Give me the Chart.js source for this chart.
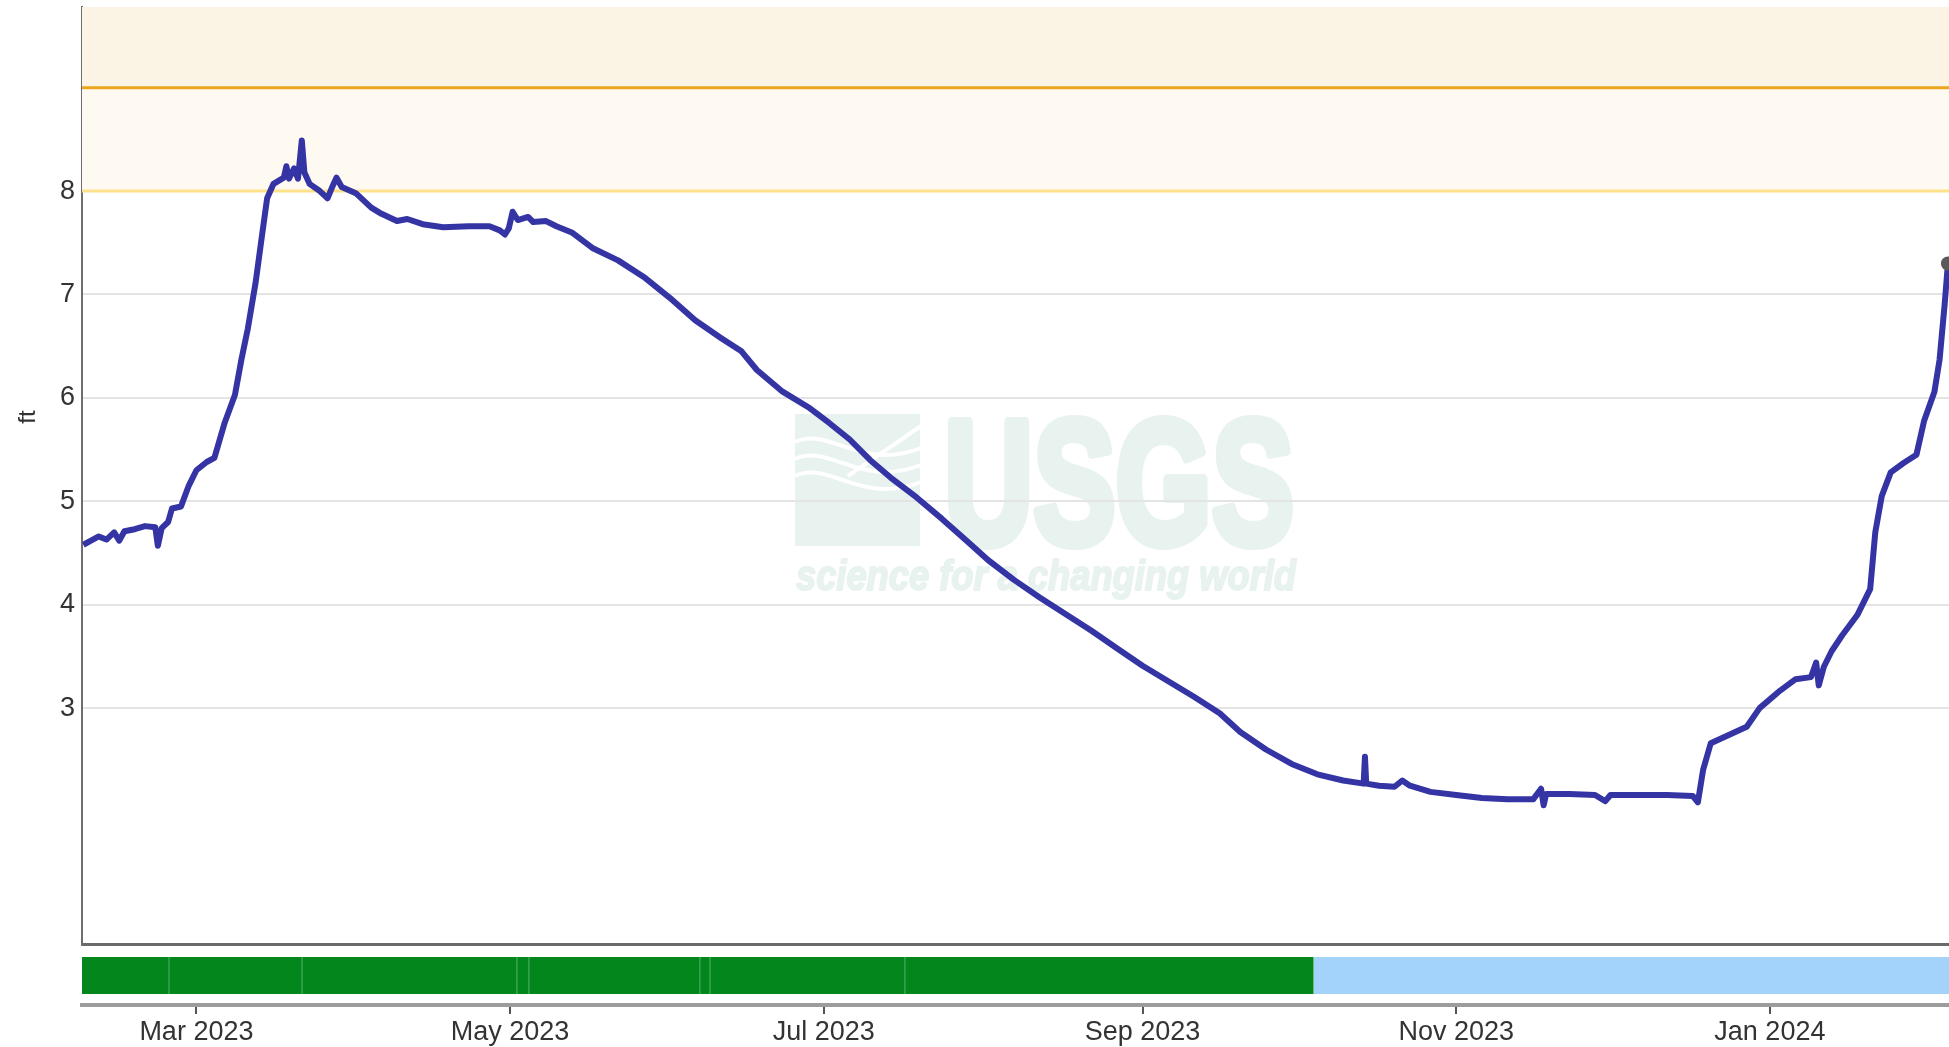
<!DOCTYPE html>
<html>
<head>
<meta charset="utf-8">
<script src="https://cdn.jsdelivr.net/npm/chart.js@4.4.1/dist/chart.umd.min.js"></script>
<style>
  html, body { margin: 0; padding: 0; background: #fff; overflow: hidden; }
  #wrap { width: 1949px; height: 1047px; }
</style>
</head>
<body>
<div id="wrap"><canvas id="myChart"></canvas></div>
<script>
// gage height readings (UTC)
const DATES = [
  '2023-02-07T00', '2023-02-08T12', '2023-02-10T00', '2023-02-11T12', '2023-02-13T00',
  '2023-02-14T00', '2023-02-15T00', '2023-02-17T00', '2023-02-19T00', '2023-02-21T00',
  '2023-02-21T12', '2023-02-22T06', '2023-02-23T12', '2023-02-24T06', '2023-02-26T00',
  '2023-02-27T12', '2023-03-01T00', '2023-03-03T00', '2023-03-04T12', '2023-03-06T12',
  '2023-03-08T12', '2023-03-09T18', '2023-03-11T00', '2023-03-12T12', '2023-03-13T18',
  '2023-03-14T18', '2023-03-16T00', '2023-03-18T00', '2023-03-18T12', '2023-03-19T00',
  '2023-03-20T00', '2023-03-20T18', '2023-03-21T12', '2023-03-22T00', '2023-03-23T00',
  '2023-03-25T00', '2023-03-26T12', '2023-03-27T12', '2023-03-28T06', '2023-03-29T06',
  '2023-04-01T00', '2023-04-04T00', '2023-04-06T00', '2023-04-09T00', '2023-04-11T00',
  '2023-04-14T00', '2023-04-18T00', '2023-04-23T00', '2023-04-27T00', '2023-04-29T00',
  '2023-04-30T00', '2023-04-30T18', '2023-05-01T12', '2023-05-02T12', '2023-05-04T12',
  '2023-05-05T12', '2023-05-08T00', '2023-05-10T00', '2023-05-13T00', '2023-05-17T00',
  '2023-05-22T00', '2023-05-27T00', '2023-06-01T00', '2023-06-06T00', '2023-06-11T00',
  '2023-06-15T00', '2023-06-18T00', '2023-06-23T00', '2023-06-28T00', '2023-07-02T00',
  '2023-07-06T00', '2023-07-10T00', '2023-07-14T00', '2023-07-19T00', '2023-07-24T00',
  '2023-07-29T00', '2023-08-02T00', '2023-08-07T00', '2023-08-12T00', '2023-08-17T00',
  '2023-08-22T00', '2023-08-27T00', '2023-09-01T00', '2023-09-06T00', '2023-09-11T00',
  '2023-09-16T00', '2023-09-20T00', '2023-09-25T00', '2023-09-30T00', '2023-10-05T00',
  '2023-10-10T00', '2023-10-14T00', '2023-10-14T06', '2023-10-14T12', '2023-10-17T00',
  '2023-10-20T00', '2023-10-21T12', '2023-10-23T00', '2023-10-27T00', '2023-11-01T00',
  '2023-11-06T00', '2023-11-11T00', '2023-11-16T00', '2023-11-17T12', '2023-11-18T00',
  '2023-11-18T12', '2023-11-23T00', '2023-11-28T00', '2023-11-30T00', '2023-12-01T00',
  '2023-12-07T00', '2023-12-12T00', '2023-12-17T00', '2023-12-18T00', '2023-12-19T00',
  '2023-12-20T12', '2023-12-24T00', '2023-12-27T12', '2023-12-30T00', '2024-01-03T00',
  '2024-01-06T00', '2024-01-09T00', '2024-01-10T00', '2024-01-10T12', '2024-01-11T12',
  '2024-01-13T00', '2024-01-15T00', '2024-01-18T00', '2024-01-20T12', '2024-01-21T12',
  '2024-01-22T18', '2024-01-24T12', '2024-01-27T00', '2024-01-29T12', '2024-01-31T00',
  '2024-02-02T00', '2024-02-03T00', '2024-02-04T00', '2024-02-04T15'
];
const GAGE_FT = [
  4.58, 4.62, 4.66, 4.63, 4.70,
  4.62, 4.71, 4.73, 4.76, 4.75,
  4.57, 4.74, 4.80, 4.93, 4.95,
  5.15, 5.30, 5.38, 5.42, 5.76,
  6.03, 6.37, 6.67, 7.11, 7.57,
  7.93, 8.07, 8.13, 8.24, 8.12,
  8.22, 8.12, 8.49, 8.18, 8.07,
  8.00, 7.93, 8.05, 8.13, 8.04,
  7.98, 7.84, 7.78, 7.71, 7.73,
  7.68, 7.65, 7.66, 7.66, 7.62,
  7.58, 7.64, 7.80, 7.72, 7.75,
  7.70, 7.71, 7.66, 7.60, 7.45,
  7.33, 7.17, 6.97, 6.75, 6.58,
  6.45, 6.27, 6.06, 5.91, 5.76,
  5.60, 5.40, 5.23, 5.04, 4.83,
  4.61, 4.43, 4.24, 4.07, 3.91,
  3.75, 3.58, 3.41, 3.26, 3.11,
  2.95, 2.77, 2.60, 2.46, 2.36,
  2.30, 2.27, 2.53, 2.27, 2.25,
  2.24, 2.30, 2.25, 2.19, 2.16,
  2.13, 2.12, 2.12, 2.22, 2.06,
  2.17, 2.17, 2.16, 2.10, 2.16,
  2.16, 2.16, 2.15, 2.09, 2.40,
  2.66, 2.74, 2.82, 3.00, 3.17,
  3.28, 3.30, 3.44, 3.22, 3.40,
  3.55, 3.70, 3.90, 4.15, 4.70,
  5.05, 5.28, 5.37, 5.45, 5.78,
  6.06, 6.37, 6.91, 7.30
];

// threshold levels (ft)
const THRESHOLDS = [8, 9];

// approval status periods
const STATUS_NAMES = ['Approved', 'Provisional'];
const STATUS_START = ['2023-02-06T18', '2023-10-04T07'];
const STATUS_END = ['2023-10-04T07', '2024-02-04T20'];
const APPROVED_EDGES = ['2023-02-23T16', '2023-03-21T13', '2023-05-02T08', '2023-05-04T16',
  '2023-06-06T22', '2023-06-08T21', '2023-07-16T19'];

// axes
const Y_TICKS = [3, 4, 5, 6, 7, 8];
const TICK_DATES = ['2023-03-01', '2023-05-01', '2023-07-01', '2023-09-01', '2023-11-01', '2024-01-01'];
const TICK_LABELS = ['Mar 2023', 'May 2023', 'Jul 2023', 'Sep 2023', 'Nov 2023', 'Jan 2024'];

const ms = s => Date.parse(s.length > 10 ? s + ':00:00Z' : s + 'T00:00:00Z');
const X_MIN = ms('2023-02-06T18');
const X_MAX = ms('2024-02-04T20');
const Y_MIN = 0.71, Y_MAX = 9.78;
const TICK_MS = TICK_DATES.map(ms);
const FONT = '"Liberation Sans", Arial, sans-serif';

const gage = DATES.map((d, i) => ({ x: ms(d), y: GAGE_FT[i] }));
const span = (y) => [{ x: X_MIN, y: y }, { x: X_MAX, y: y }];

const datasets = [];
// shaded bands above the thresholds
datasets.push({ data: span(Y_MAX), fill: { value: THRESHOLDS[1] }, backgroundColor: '#fbf4e4', borderWidth: 0, pointRadius: 0, yAxisID: 'y', order: 10 });
datasets.push({ data: span(THRESHOLDS[1]), fill: { value: THRESHOLDS[0] }, backgroundColor: '#fffaf1', borderWidth: 0, pointRadius: 0, yAxisID: 'y', order: 10 });
datasets.push({ data: span(THRESHOLDS[1]), borderColor: '#eba51e', borderWidth: 3, pointRadius: 0, fill: false, yAxisID: 'y', order: 5 });
datasets.push({ data: span(THRESHOLDS[0]), borderColor: '#fde08a', borderWidth: 3, pointRadius: 0, fill: false, yAxisID: 'y', order: 5 });

// status bar
const STATUS_COLORS = ['#03861b', '#a3d3fb'];
STATUS_NAMES.forEach((name, i) => {
  datasets.push({
    label: name,
    data: [{ x: ms(STATUS_START[i]), y: 0.8 }, { x: ms(STATUS_END[i]), y: 0.8 }],
    fill: { value: 0.183 }, backgroundColor: STATUS_COLORS[i],
    borderWidth: 0, pointRadius: 0, yAxisID: 'ys', order: 6
  });
});
APPROVED_EDGES.forEach(d => {
  datasets.push({
    data: [{ x: ms(d), y: 0.183 }, { x: ms(d), y: 0.8 }],
    borderColor: 'rgba(255,255,255,0.35)', borderWidth: 1, pointRadius: 0, fill: false,
    yAxisID: 'ys', order: 4
  });
});

// the gage series
datasets.push({
  label: 'Gage height',
  data: gage,
  borderColor: '#3434a4',
  borderWidth: 6,
  borderJoinStyle: 'round',
  tension: 0,
  fill: false,
  pointRadius: c => c.dataIndex === gage.length - 1 ? 7 : 0,
  pointBackgroundColor: '#5a5a5a',
  pointBorderWidth: 0,
  yAxisID: 'y',
  order: 0
});

const watermark = {
  id: 'watermark',
  beforeDraw(chart) {
    const ctx = chart.ctx;
    ctx.save();
    ctx.fillStyle = '#e8f2ef';
    // icon
    ctx.fillRect(795, 414, 125, 132);
    ctx.strokeStyle = '#ffffff';
    ctx.lineWidth = 4;
    ctx.beginPath();
    ctx.moveTo(921, 426);
    ctx.lineTo(848, 476);
    ctx.stroke();
    for (let i = 0; i < 3; i++) {
      const y0 = 442 + i * 17;
      ctx.beginPath();
      ctx.moveTo(795, y0);
      ctx.bezierCurveTo(830, y0 - 16, 860, y0 + 30, 921, y0 + 6);
      ctx.stroke();
    }
    // letters
    ctx.strokeStyle = '#e8f2ef';
    ctx.lineJoin = 'round';
    ctx.textBaseline = 'alphabetic';
    ctx.font = 'bold 176px ' + FONT;
    let w = ctx.measureText('USGS').width;
    ctx.save();
    ctx.translate(944, 543);
    ctx.scale(350 / w, 1);
    ctx.lineWidth = 10;
    ctx.strokeText('USGS', 0, 0);
    ctx.fillText('USGS', 0, 0);
    ctx.restore();
    ctx.font = 'italic bold 42px ' + FONT;
    w = ctx.measureText('science for a changing world').width;
    ctx.save();
    ctx.translate(796, 590);
    ctx.scale(500 / w, 1);
    ctx.lineWidth = 2;
    ctx.strokeText('science for a changing world', 0, 0);
    ctx.fillText('science for a changing world', 0, 0);
    ctx.restore();
    ctx.restore();
  },
  afterDraw(chart) {
    const ctx = chart.ctx;
    ctx.save();
    ctx.translate(28, 417);
    ctx.rotate(-Math.PI / 2);
    ctx.font = '24px ' + FONT;
    ctx.fillStyle = '#333';
    ctx.textAlign = 'center';
    ctx.textBaseline = 'middle';
    ctx.fillText('ft', 0, 0);
    ctx.restore();
  }
};

var ctx = document.getElementById('myChart').getContext('2d');
var chart = new Chart(ctx, {
  type: 'line',
  data: { datasets: datasets },
  plugins: [watermark],
  options: {
    responsive: true,
    maintainAspectRatio: false,
    animation: false,
    layout: { autoPadding: false, padding: { top: 7, left: 0, right: 0, bottom: 0 } },
    plugins: { legend: { display: false }, tooltip: { enabled: false } },
    scales: {
      x: {
        type: 'linear',
        min: X_MIN,
        max: X_MAX,
        afterBuildTicks: a => { a.ticks = TICK_MS.map(v => ({ value: v })); },
        afterFit: a => { a.height = 42; a.paddingLeft = 0; a.paddingRight = 0; },
        grid: { drawOnChartArea: false, drawTicks: true, tickLength: 9, color: '#555', lineWidth: 2 },
        border: { display: true, color: '#9c9c9c', width: 4 },
        ticks: {
          autoSkip: false, maxRotation: 0, padding: 2,
          color: '#333', font: { family: FONT, size: 27 },
          callback: v => TICK_LABELS[TICK_MS.indexOf(v)]
        }
      },
      y: {
        type: 'linear',
        position: 'left',
        stack: 'ft',
        stackWeight: 937,
        weight: 2,
        min: Y_MIN,
        max: Y_MAX,
        afterBuildTicks: a => { a.ticks = Y_TICKS.map(v => ({ value: v })); },
        afterFit: a => { a.width = 82; a.paddingTop = 0; a.paddingBottom = 0; },
        grid: { color: '#e4e4e4', lineWidth: 2, drawTicks: false },
        border: { display: true, color: '#6e6e6e', width: 2 },
        ticks: { color: '#333', padding: 7, font: { family: FONT, size: 27 } }
      },
      ys: {
        type: 'linear',
        position: 'left',
        stack: 'ft',
        stackWeight: 60,
        weight: 1,
        min: 0,
        max: 1,
        afterBuildTicks: a => { a.ticks = [{ value: 1 }]; },
        afterFit: a => { a.width = 82; a.paddingTop = 0; a.paddingBottom = 0; },
        grid: { color: '#6a6a6a', lineWidth: 3, drawTicks: false },
        border: { display: false },
        ticks: { display: false }
      }
    }
  }
});
</script>
</body>
</html>
